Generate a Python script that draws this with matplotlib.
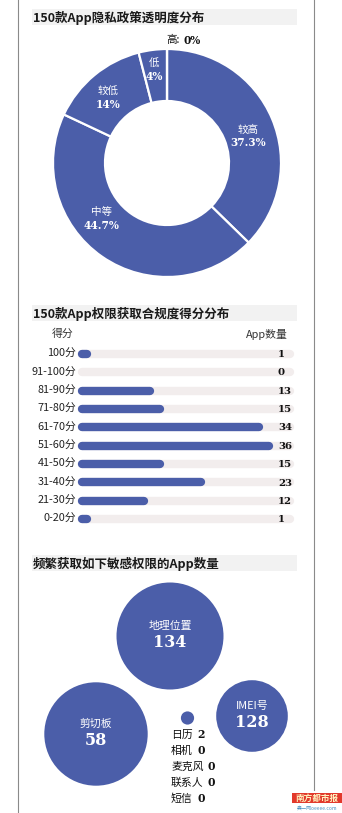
import matplotlib
matplotlib.use("Agg")
from matplotlib import pyplot as plt
from matplotlib.patches import Circle, Rectangle

plt.rcParams['font.family'] = ['Noto Sans CJK SC', 'DejaVu Sans']

# ---- data ----
pie_title = "150款App隐私政策透明度分布"
pie_labels = ["较高", "中等", "较低", "低", "高"]
pie_values = [37.3, 44.7, 14, 4, 0]

bar_title = "150款App权限获取合规度得分分布"
bar_labels = ["100分", "91-100分", "81-90分", "71-80分", "61-70分",
              "51-60分", "41-50分", "31-40分", "21-30分", "0-20分"]
bar_values = [1, 0, 13, 15, 34, 36, 15, 23, 12, 1]

bubble_title = "频繁获取如下敏感权限的App数量"
bubble_labels = ["地理位置", "剪切板", "IMEI号", "日历"]
bubble_values = [134, 58, 128, 2]
zero_labels = ["相机", "麦克风", "联系人", "短信"]
zero_values = [0, 0, 0, 0]

BLUE = '#4b5ea9'
W, H = 342, 813
NUM_FONT = dict(family='DejaVu Serif', fontweight='bold')

fig = plt.figure(figsize=(W / 100, H / 100), dpi=100)

# ---- donut ----
axp = fig.add_axes([0, 0, 1, 1])
axp.patch.set_alpha(0)
R_OUT, R_IN = 114, 62
cx, cy = 167, H - 163
axp.pie(pie_values, startangle=90, counterclock=False, radius=R_OUT,
        center=(cx, cy), colors=[BLUE] * len(pie_values), frame=True,
        wedgeprops=dict(width=R_OUT - R_IN, edgecolor='white', linewidth=1.6))
axp.set_xlim(0, W)
axp.set_ylim(0, H)
axp.axis('off')

# ---- bars ----
axb = fig.add_axes([0, 0, 1, 1])
axb.patch.set_alpha(0)
px_per = 187 / 36
row_h = 18.35
x0, y0 = 82, 354
axb.set_xlim(-x0 / px_per, (W - x0) / px_per)
axb.set_ylim((H - y0) / row_h, -y0 / row_h)
axb.axis('off')
rows = list(range(len(bar_values)))
axb.hlines(rows, 0, 40, color='#f2eded', lw=6.0, capstyle='round')
shown = [i for i in rows if bar_values[i] > 0]
axb.hlines(shown, 0, [bar_values[i] for i in shown], color=BLUE, lw=6.0,
           capstyle='round')
for i, (lab, v) in enumerate(zip(bar_labels, bar_values)):
    axb.text(-1.1, i, lab, fontsize=7.8, ha='right', va='center', color='#222')
    axb.text(37.7, i + 0.03, str(v), fontsize=7.3, ha='left', va='center',
             color='#111', **NUM_FONT)

# overlay in pixel coordinates (y down), on top
ax = fig.add_axes([0, 0, 1, 1])
ax.patch.set_alpha(0)
ax.set_zorder(5)
ax.set_xlim(0, W)
ax.set_ylim(H, 0)
ax.axis('off')

ax.plot([17.5, 17.5], [0, H], color='#8a8a8a', lw=0.8)
ax.plot([314, 314], [0, 790], color='#8a8a8a', lw=0.8)

def section_title(txt, y0, y1):
    ax.add_patch(Rectangle((32, y0), 265, y1 - y0, color='#f2f2f2', lw=0))
    ax.text(33, (y0 + y1) / 2 + 0.5, txt, fontsize=9, fontweight='bold',
            color='#1a1a1a', va='center', ha='left')

section_title(pie_title, 9, 25)
section_title(bar_title, 305, 321)
section_title(bubble_title, 555, 571)

pie_label_pos = [(248, 136), (102, 218), (108, 97), (154, 69)]
for (lx, ly), name, v in zip(pie_label_pos, pie_labels, pie_values):
    ax.text(lx, ly - 6, name, color='white', fontsize=7.6, ha='center', va='center')
    ax.text(lx, ly + 7, "{:g}%".format(v), color='white', fontsize=7.6,
            ha='center', va='center', **NUM_FONT)
ax.text(166, 40, pie_labels[4] + ":", fontsize=7.6, ha='left', va='center', color='#111')
ax.text(183, 40, "{:g}%".format(pie_values[4]), fontsize=7.6, ha='left',
        va='center', color='#111', **NUM_FONT)

ax.text(63, 334, "得分", fontsize=7.8, ha='center', va='center', color='#333')
ax.text(288, 334, "App数量", fontsize=7.8, ha='right', va='center', color='#333')

# ---- bubbles ----
bubble_layout = [(170, 636, 53.5), (96, 734, 51.7), (252, 716, 35.8), (187.5, 718, 6.6)]
for (bx, by, br), name, v in zip(bubble_layout, bubble_labels, bubble_values):
    ax.add_patch(Circle((bx, by), br, color=BLUE, lw=0))
    if br > 20:
        ax.text(bx, by - 10, name, color='white', fontsize=7.8, ha='center', va='center')
        ax.text(bx, by + 6, str(v), color='white', fontsize=11.5, ha='center',
                va='center', **NUM_FONT)

list_names = [bubble_labels[3]] + zero_labels
list_values = [bubble_values[3]] + zero_values
for i, (name, v) in enumerate(zip(list_names, list_values)):
    yy = 734.5 + i * 16
    ax.text(171, yy, name, fontsize=7.8, ha='left', va='center', color='#111')
    ax.text(171 + 11 * len(name) + 4, yy, str(v), fontsize=7.8, ha='left',
            va='center', color='#111', **NUM_FONT)

# logo
ax.add_patch(Rectangle((292, 793), 50, 10, color='#e2392c', lw=0))
ax.text(317, 798.2, "南方都市报", fontsize=6.2, color='#fff3c0', ha='center',
        va='center', fontweight='bold')
ax.text(317, 808, "奥一网oeeee.com", fontsize=3.6, color='#4a90c0', ha='center', va='center')

fig.savefig("out.png", dpi=100, facecolor='white')
